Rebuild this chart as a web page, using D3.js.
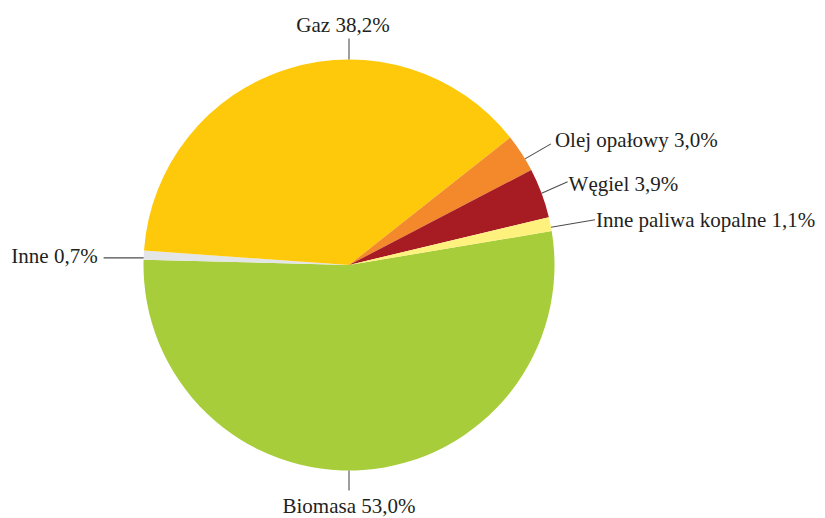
<!DOCTYPE html>
<html>
<head>
<meta charset="utf-8">
<script src="https://cdn.jsdelivr.net/npm/d3@7/dist/d3.min.js"></script>
<style>
  html, body { margin: 0; padding: 0; background: #ffffff; }
  svg { display: block; }
  text { font-family: "Liberation Serif", "Times New Roman", serif; font-size: 21px; fill: #231f20; }
</style>
</head>
<body>
<svg id="chart" width="825" height="518"></svg>
<script>
// Fuel shares, in drawing order (clockwise)
const categories = ["Biomasa", "Inne", "Gaz", "Olej opałowy", "Węgiel", "Inne paliwa kopalne"];
const shares = [53.0, 0.7, 38.2, 3.0, 3.9, 1.1];
const valueLabels = ["53,0%", "0,7%", "38,2%", "3,0%", "3,9%", "1,1%"];
const colors = ["#a8cd3b", "#e4e5e6", "#ffc90b", "#f3892a", "#a71c22", "#fff17e"];

// Label placement: leader start angle on the rim (deg), leader end offset, text offset, anchor
const labelLayout = {
  "Biomasa":             { angle: 180,  ldx: 0,   ldy: 20,   tdx: 0,  tdy: 22, anchor: "middle" },
  "Inne":                { angle: 272,  ldx: -40, ldy: 0,    tdx: -6, tdy: 5,  anchor: "end" },
  "Gaz":                 { angle: 0,    ldx: 0,   ldy: -21,  tdx: -6, tdy: -7, anchor: "middle" },
  "Olej opałowy":        { angle: 58.9, ldx: 26,  ldy: -15,  tdx: 4,  tdy: 3,  anchor: "start" },
  "Węgiel":              { angle: 69.6, ldx: 26,  ldy: -11.5,tdx: 1,  tdy: 9,  anchor: "start" },
  "Inne paliwa kopalne": { angle: 79.4, ldx: 44,  ldy: -7.5, tdx: 1,  tdy: 7,  anchor: "start" }
};

const data = categories.map((c, i) => ({ name: c, value: shares[i], label: valueLabels[i], color: colors[i] }));

const cx = 349, cy = 265, radius = 205.5;
const startDeg = 80.5;
const rad = d => d * Math.PI / 180;

const svg = d3.select("#chart");
const g = svg.append("g").attr("transform", `translate(${cx},${cy})`);

const pie = d3.pie()
  .value(d => d.value)
  .sort(null)
  .startAngle(rad(startDeg))
  .endAngle(rad(startDeg) + 2 * Math.PI);

const arc = d3.arc().innerRadius(0).outerRadius(radius);

g.selectAll("path.slice")
  .data(pie(data))
  .join("path")
  .attr("class", "slice")
  .attr("d", arc)
  .attr("fill", d => d.data.color);

// Leader lines and labels
const labels = g.selectAll("g.label")
  .data(data)
  .join("g")
  .attr("class", "label");

labels.each(function(d) {
  const L = labelLayout[d.name];
  const a = rad(L.angle);
  const x0 = radius * Math.sin(a);
  const y0 = -radius * Math.cos(a);
  const x1 = x0 + L.ldx;
  const y1 = y0 + L.ldy;
  const sel = d3.select(this);
  sel.append("line")
    .attr("x1", x0).attr("y1", y0)
    .attr("x2", x1).attr("y2", y1)
    .attr("stroke", "#4d4d4f")
    .attr("stroke-width", 1.1);
  sel.append("text")
    .attr("x", x1 + L.tdx)
    .attr("y", y1 + L.tdy)
    .attr("text-anchor", L.anchor)
    .text(`${d.name} ${d.label}`);
});
</script>
</body>
</html>
